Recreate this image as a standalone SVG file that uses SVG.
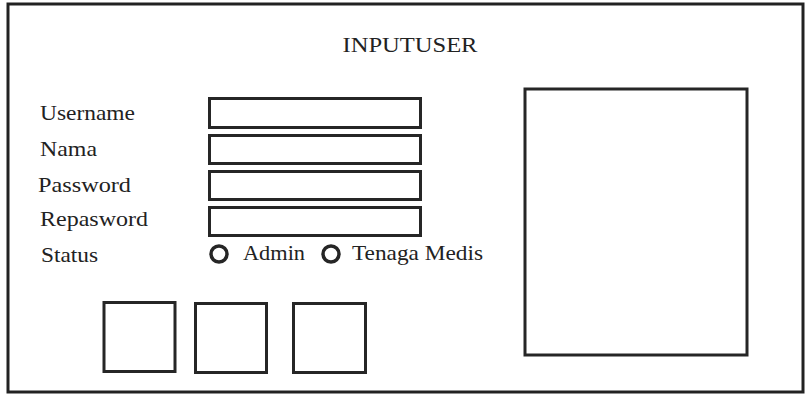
<svg xmlns="http://www.w3.org/2000/svg" width="805" height="397" viewBox="0 0 805 397">
<style>
.box{fill:#fff;stroke:#262626;stroke-width:3}
.t{font-size:21px;fill:#222}
.radio{fill:none;stroke:#262626;stroke-width:3.5}
</style>
<rect x="0" y="0" width="805" height="397" fill="#fff"/>
<g id="frame"><rect x="8" y="4" width="795" height="388" fill="none" stroke="#222" stroke-width="3"/></g>
<g font-family="Liberation Serif, Tinos, Times New Roman, Noto Serif, DejaVu Serif, serif">
<g id="title"><text class="t" x="410" y="52" text-anchor="middle" textLength="135" lengthAdjust="spacingAndGlyphs">INPUTUSER</text></g>
<g id="labels">
<text class="t" x="40" y="120" textLength="95" lengthAdjust="spacingAndGlyphs">Username</text>
<text class="t" x="40" y="156" textLength="57" lengthAdjust="spacingAndGlyphs">Nama</text>
<text class="t" x="38" y="192" textLength="93" lengthAdjust="spacingAndGlyphs">Password</text>
<text class="t" x="40" y="226" textLength="108" lengthAdjust="spacingAndGlyphs">Repasword</text>
<text class="t" x="41" y="262" textLength="57" lengthAdjust="spacingAndGlyphs">Status</text>
</g>
<g id="status-options">
<circle class="radio" cx="219" cy="254" r="8"/>
<text class="t" x="243" y="260" textLength="62" lengthAdjust="spacingAndGlyphs">Admin</text>
<circle class="radio" cx="331" cy="254" r="8"/>
<text class="t" x="352" y="260" textLength="131" lengthAdjust="spacingAndGlyphs">Tenaga Medis</text>
</g>
</g>
<g id="fields">
<rect class="box" x="209.5" y="98.5" width="211" height="29"/>
<rect class="box" x="209.5" y="135.5" width="211" height="28"/>
<rect class="box" x="209.5" y="171.5" width="211" height="28"/>
<rect class="box" x="209.5" y="207.5" width="211" height="28"/>
</g>
<g id="buttons">
<rect class="box" x="104" y="302.5" width="71" height="69"/>
<rect class="box" x="195.5" y="303.5" width="71" height="69"/>
<rect class="box" x="293.5" y="303.5" width="72" height="69"/>
</g>
<g id="photo"><rect class="box" x="525" y="89" width="222" height="266"/></g>
<g id="connectors"></g>
</svg>
